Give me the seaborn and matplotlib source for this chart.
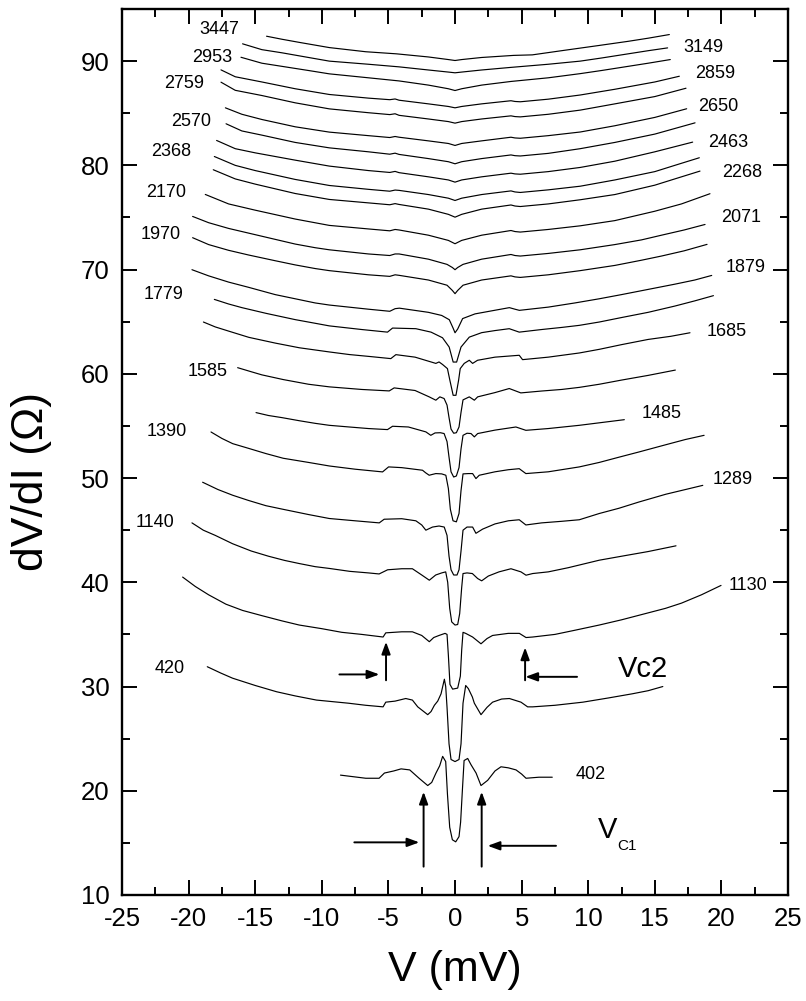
import matplotlib
matplotlib.use("Agg")
import matplotlib.pyplot as plt
import seaborn as sns
import pandas as pd

# ---------------- data ----------------
v_402 = [-8.6, -6.7, -5.7, -5.3, -4.6, -4.05, -3.4, -2.7, -2.05, -1.75, -1.43, -1.15, -0.93, -0.7, -0.57, -0.4, -0.2, 0.05, 0.3, 0.42, 0.55, 0.68, 0.95, 1.2, 1.58, 1.95, 2.45, 3.0, 3.45, 4.0, 4.58, 5.0, 5.33, 6.3, 7.3]
r_402 = [21.5, 21.2, 21.2, 21.7, 21.9, 22.1, 22.0, 21.2, 20.5, 20.8, 21.7, 22.4, 23.3, 22.8, 19.7, 16.5, 15.3, 15.1, 15.6, 17.0, 20.0, 22.9, 23.1, 22.5, 21.7, 20.5, 21.0, 21.9, 22.3, 22.2, 22.0, 21.6, 21.2, 21.3, 21.3]

v_420 = [-18.6, -17.6, -16.7, -15.0, -13.4, -12.0, -10.4, -8.0, -6.7, -5.4, -5.2, -4.5, -3.7, -3.2, -2.8, -2.05, -1.8, -1.55, -1.3, -1.05, -0.8, -0.7, -0.6, -0.45, -0.3, 0.0, 0.3, 0.45, 0.6, 0.8, 1.0, 1.3, 1.45, 1.95, 2.4, 2.82, 3.5, 4.08, 4.95, 5.45, 5.83, 7.5, 9.6, 11.5, 13.3, 14.5, 15.6]
r_420 = [31.9, 31.3, 30.8, 30.1, 29.5, 29.1, 28.7, 28.4, 28.2, 28.05, 28.5, 28.6, 28.85, 28.7, 28.05, 27.3, 27.6, 28.2, 28.6, 29.3, 30.7, 30.0, 28.0, 24.5, 23.0, 22.8, 23.0, 24.5, 28.4, 30.1, 29.8, 29.0, 28.4, 27.3, 28.0, 28.5, 28.8, 28.85, 28.5, 28.05, 28.05, 28.2, 28.5, 28.9, 29.3, 29.6, 30.0]

v_1130 = [-20.45, -19.5, -18.5, -17.2, -15.95, -14.5, -13.0, -11.7, -10.0, -8.5, -7.0, -5.4, -5.2, -4.0, -3.2, -2.5, -1.93, -1.6, -1.2, -0.75, -0.6, -0.5, -0.38, -0.18, 0.2, 0.4, 0.5, 0.6, 0.8, 1.32, 1.95, 2.4, 2.82, 4.0, 4.83, 5.33, 5.83, 7.5, 9.0, 10.83, 12.5, 14.0, 15.8, 17.0, 18.5, 19.97]
r_1130 = [40.5, 39.6, 38.8, 37.9, 37.3, 36.8, 36.3, 35.9, 35.55, 35.2, 35.0, 34.75, 35.15, 35.25, 35.25, 34.9, 34.3, 34.7, 34.9, 35.1, 35.0, 33.0, 30.2, 29.75, 29.85, 31.0, 33.5, 35.2, 35.1, 34.75, 34.1, 34.6, 34.9, 35.1, 35.1, 34.7, 34.75, 35.0, 35.4, 35.9, 36.4, 36.9, 37.5, 38.0, 38.8, 39.7]

v_1140 = [-19.75, -18.9, -18.0, -16.7, -15.3, -14.0, -12.8, -11.7, -10.5, -9.44, -7.9, -6.5, -5.7, -5.06, -4.0, -3.2, -2.5, -1.93, -1.45, -1.0, -0.7, -0.55, -0.4, -0.25, 0.0, 0.2, 0.35, 0.5, 0.6, 0.9, 1.3, 1.7, 2.0, 2.5, 3.3, 4.2, 4.95, 5.33, 5.83, 7.0, 8.5, 10.83, 12.5, 14.5, 16.59]
r_1140 = [45.7, 45.0, 44.5, 43.7, 43.0, 42.5, 42.1, 41.8, 41.5, 41.33, 41.05, 40.9, 40.8, 41.2, 41.3, 41.3, 40.7, 40.2, 40.7, 40.9, 41.0, 40.0, 37.5, 36.2, 35.9, 35.95, 37.0, 39.5, 40.84, 40.9, 40.84, 40.36, 40.14, 40.6, 41.0, 41.3, 41.0, 40.68, 40.84, 41.0, 41.4, 42.12, 42.5, 42.95, 43.5]

v_1289 = [-18.95, -17.8, -16.69, -15.5, -14.2, -12.9, -11.0, -9.44, -7.5, -5.69, -5.32, -4.0, -2.94, -2.5, -2.19, -1.69, -1.2, -0.81, -0.6, -0.45, -0.3, -0.1, 0.15, 0.3, 0.45, 0.6, 0.9, 1.32, 1.57, 2.07, 3.0, 4.0, 4.82, 5.32, 6.5, 8.0, 9.33, 10.83, 12.3, 13.8, 15.83, 17.3, 18.6]
r_1289 = [49.6, 48.9, 48.35, 47.85, 47.35, 47.0, 46.5, 46.12, 45.9, 45.7, 46.05, 46.1, 45.9, 45.5, 45.0, 45.3, 45.4, 45.3, 44.5, 42.5, 41.2, 40.7, 40.7, 41.2, 43.0, 45.0, 45.3, 45.3, 44.7, 45.1, 45.6, 45.9, 46.0, 45.5, 45.7, 45.85, 46.0, 46.6, 47.1, 47.7, 48.45, 48.9, 49.3]

v_1390 = [-18.32, -17.5, -16.69, -15.5, -14.2, -12.9, -11.0, -9.44, -7.5, -5.44, -4.99, -4.0, -2.44, -2.2, -1.94, -1.7, -1.44, -1.0, -0.69, -0.5, -0.35, -0.15, 0.1, 0.3, 0.45, 0.6, 1.0, 1.32, 1.57, 1.82, 3.0, 4.0, 4.82, 5.32, 7.0, 9.33, 10.83, 12.3, 13.8, 15.83, 17.3, 18.7]
r_1390 = [54.42, 53.8, 53.3, 52.85, 52.35, 51.9, 51.5, 51.16, 50.85, 50.59, 51.07, 51.0, 50.75, 50.5, 50.27, 50.35, 50.43, 50.4, 50.27, 49.0, 47.0, 45.9, 45.8, 46.6, 48.8, 50.4, 50.43, 50.43, 49.95, 50.27, 50.6, 50.8, 50.9, 50.43, 50.6, 51.07, 51.5, 52.0, 52.5, 53.2, 53.7, 54.1]

v_1485 = [-14.94, -14.0, -13.0, -11.69, -10.5, -9.44, -7.94, -6.5, -5.07, -4.69, -3.5, -2.19, -1.82, -1.5, -1.1, -0.82, -0.6, -0.45, -0.3, -0.1, 0.1, 0.3, 0.45, 0.6, 0.9, 1.2, 1.45, 1.7, 3.0, 4.57, 5.32, 7.0, 9.33, 10.83, 12.71]
r_1485 = [56.28, 56.0, 55.8, 55.5, 55.25, 55.06, 54.9, 54.75, 54.65, 54.97, 54.9, 54.43, 54.1, 54.33, 54.35, 54.27, 53.5, 52.0, 50.6, 50.1, 50.2, 51.0, 52.8, 54.1, 54.3, 54.27, 53.95, 54.27, 54.6, 54.9, 54.58, 54.75, 55.06, 55.3, 55.6]

v_1585 = [-16.32, -15.3, -14.5, -12.9, -11.0, -9.44, -7.0, -4.94, -4.57, -3.0, -1.94, -1.44, -1.14, -0.82, -0.6, -0.45, -0.3, -0.1, 0.1, 0.3, 0.45, 0.6, 1.07, 1.45, 1.7, 3.0, 4.07, 4.94, 6.5, 8.0, 9.33, 10.83, 12.5, 14.5, 16.54]
r_1585 = [60.59, 60.2, 59.9, 59.45, 59.0, 58.75, 58.5, 58.36, 58.65, 58.4, 57.79, 57.47, 57.79, 57.63, 57.0, 55.8, 54.7, 54.3, 54.35, 54.9, 56.3, 57.5, 57.79, 57.47, 57.79, 58.2, 58.59, 58.17, 58.35, 58.5, 58.7, 59.0, 59.4, 59.85, 60.36]

v_1685 = [-18.89, -18.0, -17.0, -15.48, -13.5, -11.69, -9.44, -7.94, -6.3, -4.82, -4.44, -3.0, -1.44, -1.2, -0.94, -0.57, -0.39, -0.14, 0.07, 0.27, 0.39, 0.69, 1.07, 1.32, 1.69, 3.0, 4.82, 5.07, 7.0, 9.33, 10.83, 12.5, 14.5, 16.2, 17.64]
r_1685 = [64.97, 64.5, 64.1, 63.5, 62.95, 62.5, 62.1, 61.85, 61.65, 61.46, 61.84, 61.6, 61.0, 61.14, 60.9, 60.5, 59.4, 57.94, 57.94, 59.4, 60.5, 61.0, 61.3, 61.0, 61.3, 61.6, 61.78, 61.36, 61.6, 62.0, 62.35, 62.8, 63.3, 63.6, 63.94]

v_1779 = [-18.07, -17.0, -16.0, -14.18, -12.0, -10.5, -9.44, -7.0, -5.07, -4.69, -2.94, -1.8, -0.94, -0.44, -0.14, 0.12, 0.45, 1.07, 2.0, 3.0, 4.07, 4.82, 6.5, 8.0, 9.33, 10.83, 12.5, 14.5, 16.5, 18.0, 19.4]
r_1779 = [67.14, 66.7, 66.35, 65.8, 65.2, 64.85, 64.6, 64.25, 64.0, 64.39, 64.33, 64.0, 63.46, 62.57, 61.13, 61.13, 62.57, 63.52, 63.95, 64.15, 64.33, 64.0, 64.25, 64.45, 64.65, 64.97, 65.4, 65.9, 66.5, 67.0, 67.5]

v_1879 = [-19.75, -18.5, -17.0, -15.5, -13.5, -12.0, -10.5, -9.44, -6.5, -4.9, -4.5, -4.18, -2.0, -1.0, -0.43, -0.15, 0.0, 0.2, 0.57, 1.5, 3.0, 4.08, 4.5, 4.83, 7.0, 9.0, 10.83, 12.5, 14.5, 16.5, 18.0, 19.27]
r_1879 = [69.99, 69.4, 68.8, 68.3, 67.6, 67.2, 66.8, 66.6, 66.2, 66.0, 66.25, 66.3, 65.9, 65.6, 65.19, 64.4, 63.94, 64.3, 65.3, 65.75, 66.1, 66.35, 66.2, 66.09, 66.4, 66.8, 67.2, 67.6, 68.1, 68.6, 69.0, 69.44]

v_1970 = [-19.7, -18.5, -17.0, -15.5, -13.5, -12.0, -10.5, -9.44, -6.5, -4.9, -4.5, -4.2, -2.0, -0.6, -0.2, 0.0, 0.2, 0.6, 2.0, 4.2, 4.5, 4.9, 7.0, 9.4, 12.0, 14.0, 15.5, 17.2, 18.92]
r_1970 = [73.06, 72.4, 71.85, 71.4, 70.85, 70.45, 70.1, 69.9, 69.5, 69.35, 69.5, 69.45, 69.0, 68.5, 68.0, 67.69, 68.0, 68.5, 69.0, 69.4, 69.3, 69.25, 69.5, 69.9, 70.4, 70.9, 71.3, 71.8, 72.42]

v_2071 = [-19.7, -18.5, -17.0, -15.5, -13.5, -12.0, -10.5, -9.44, -6.5, -4.9, -4.5, -4.2, -2.0, -0.6, -0.2, 0.0, 0.2, 0.6, 2.0, 4.2, 4.5, 4.9, 7.0, 9.4, 12.0, 14.0, 15.5, 17.2, 18.77]
r_2071 = [75.1, 74.5, 73.95, 73.5, 72.9, 72.45, 72.1, 71.9, 71.5, 71.35, 71.5, 71.5, 71.0, 70.5, 70.2, 69.99, 70.2, 70.5, 71.0, 71.45, 71.35, 71.3, 71.55, 71.9, 72.4, 72.85, 73.3, 73.8, 74.33]

v_2170 = [-18.75, -17.0, -15.0, -12.0, -9.44, -6.5, -4.9, -4.5, -4.2, -2.0, -0.5, 0.0, 0.5, 2.0, 4.2, 4.5, 4.9, 7.0, 9.4, 12.0, 15.0, 17.0, 19.14]
r_2170 = [77.21, 76.3, 75.7, 74.85, 74.24, 73.9, 73.72, 73.85, 73.8, 73.3, 72.8, 72.48, 72.8, 73.3, 73.75, 73.65, 73.6, 73.85, 74.2, 74.7, 75.6, 76.3, 77.28]

v_2268 = [-18.15, -16.5, -15.0, -12.0, -9.44, -6.5, -4.9, -4.5, -4.2, -2.0, -0.5, 0.0, 0.5, 2.0, 4.2, 4.5, 4.9, 7.0, 9.4, 12.0, 15.0, 16.5, 18.39]
r_2268 = [79.58, 78.7, 78.2, 77.3, 76.73, 76.4, 76.22, 76.33, 76.25, 75.8, 75.3, 75.03, 75.3, 75.8, 76.2, 76.1, 76.05, 76.3, 76.7, 77.2, 78.1, 78.7, 79.45]

v_2368 = [-18.07, -16.5, -15.0, -12.0, -9.44, -6.5, -4.9, -4.5, -4.2, -2.0, -0.5, 0.0, 0.5, 2.0, 4.2, 4.5, 4.9, 7.0, 9.4, 12.0, 15.0, 16.5, 18.34]
r_2368 = [80.85, 80.0, 79.5, 78.65, 78.07, 77.7, 77.52, 77.63, 77.6, 77.2, 76.85, 76.63, 76.85, 77.2, 77.55, 77.45, 77.4, 77.65, 78.0, 78.6, 79.4, 80.0, 80.73]

v_2463 = [-17.9, -16.5, -15.0, -12.0, -9.44, -6.5, -4.9, -4.5, -4.2, -2.0, -0.5, 0.0, 0.5, 2.0, 4.2, 4.5, 4.9, 7.0, 9.4, 12.0, 15.0, 17.84]
r_2463 = [82.39, 81.6, 81.2, 80.5, 79.93, 79.5, 79.32, 79.42, 79.3, 78.9, 78.6, 78.39, 78.6, 78.9, 79.25, 79.18, 79.15, 79.4, 79.8, 80.4, 81.3, 82.23]

v_2570 = [-17.19, -16.0, -14.5, -12.0, -9.44, -6.5, -4.9, -4.5, -4.2, -2.0, -0.5, 0.0, 0.5, 2.0, 4.2, 4.5, 4.9, 7.0, 9.4, 12.0, 15.0, 18.02]
r_2570 = [83.99, 83.3, 82.9, 82.2, 81.68, 81.3, 81.07, 81.17, 81.05, 80.65, 80.35, 80.15, 80.35, 80.65, 81.0, 80.93, 80.9, 81.15, 81.6, 82.2, 83.0, 84.08]

v_2650 = [-17.24, -16.0, -14.5, -12.0, -9.44, -6.5, -4.9, -4.5, -4.2, -2.0, -0.5, 0.0, 0.5, 2.0, 4.2, 4.5, 4.9, 7.0, 9.4, 12.0, 15.0, 17.39]
r_2650 = [85.52, 84.9, 84.4, 83.7, 83.19, 82.85, 82.67, 82.77, 82.7, 82.35, 82.1, 81.91, 82.1, 82.35, 82.7, 82.63, 82.6, 82.85, 83.2, 83.8, 84.6, 85.43]

v_2759 = [-17.57, -16.5, -14.5, -12.0, -9.44, -6.5, -4.9, -4.5, -4.2, -2.0, -0.5, 0.0, 0.5, 2.0, 4.2, 4.5, 4.9, 7.0, 9.4, 12.0, 15.0, 17.34]
r_2759 = [87.98, 87.2, 86.7, 86.0, 85.42, 85.05, 84.87, 84.95, 84.8, 84.45, 84.2, 84.05, 84.2, 84.45, 84.75, 84.68, 84.65, 84.9, 85.3, 85.9, 86.6, 87.4]

v_2859 = [-17.57, -16.5, -14.5, -12.0, -9.44, -6.5, -4.9, -4.5, -4.2, -2.0, -0.5, 0.0, 0.5, 2.0, 4.2, 4.5, 4.9, 7.0, 9.4, 12.0, 15.0, 16.84]
r_2859 = [89.16, 88.5, 88.0, 87.35, 86.8, 86.45, 86.3, 86.37, 86.25, 85.9, 85.65, 85.52, 85.65, 85.9, 86.2, 86.13, 86.1, 86.35, 86.75, 87.3, 88.0, 88.55]

v_2953 = [-16.07, -14.5, -13.0, -11.0, -9.44, -6.5, -4.2, -2.0, -0.5, 0.0, 0.5, 2.0, 4.2, 7.0, 9.4, 11.0, 13.0, 14.5, 16.16]
r_2953 = [90.37, 89.8, 89.5, 89.1, 88.78, 88.4, 88.1, 87.7, 87.35, 87.18, 87.35, 87.7, 88.05, 88.4, 88.8, 89.1, 89.5, 89.8, 90.15]

v_3149 = [-15.95, -14.5, -13.0, -11.0, -9.44, -6.5, -4.2, -2.0, -0.5, 0.0, 0.5, 2.0, 4.2, 7.0, 9.4, 11.0, 13.0, 14.5, 15.96]
r_3149 = [91.66, 91.1, 90.8, 90.35, 90.0, 89.7, 89.45, 89.15, 88.95, 88.88, 88.95, 89.15, 89.4, 89.7, 90.0, 90.3, 90.7, 91.0, 91.27]

v_3447 = [-14.15, -13.0, -11.7, -9.44, -6.7, -4.4, -2.0, -0.5, 0.0, 0.5, 2.0, 4.4, 5.8, 8.0, 10.8, 13.0, 14.5, 16.09]
r_3447 = [92.39, 92.1, 91.8, 91.3, 90.9, 90.7, 90.4, 90.15, 90.06, 90.15, 90.35, 90.55, 90.6, 91.0, 91.5, 91.9, 92.2, 92.55]

curve_labels = ["402", "420", "1130", "1140", "1289", "1390", "1485", "1585",
                "1685", "1779", "1879", "1970", "2071", "2170", "2268", "2368",
                "2463", "2570", "2650", "2759", "2859", "2953", "3149", "3447"]
curve_v = [v_402, v_420, v_1130, v_1140, v_1289, v_1390, v_1485, v_1585,
           v_1685, v_1779, v_1879, v_1970, v_2071, v_2170, v_2268, v_2368,
           v_2463, v_2570, v_2650, v_2759, v_2859, v_2953, v_3149, v_3447]
curve_r = [r_402, r_420, r_1130, r_1140, r_1289, r_1390, r_1485, r_1585,
           r_1685, r_1779, r_1879, r_1970, r_2071, r_2170, r_2268, r_2368,
           r_2463, r_2570, r_2650, r_2759, r_2859, r_2953, r_3149, r_3447]

x_ticks = [-25, -20, -15, -10, -5, 0, 5, 10, 15, 20, 25]
y_ticks = [10, 20, 30, 40, 50, 60, 70, 80, 90]

# ---------------- layout (label and arrow placement) ----------------
label_pos = {
    "402": (10.16, 21.55), "420": (-21.43, 31.74), "1130": (22.02, 39.72),
    "1140": (-22.5, 45.71), "1289": (20.82, 49.84), "1390": (-21.64, 54.44),
    "1485": (15.49, 56.17), "1585": (-18.6, 60.19), "1685": (20.37, 64.03),
    "1779": (-21.9, 67.57), "1879": (21.8, 70.16), "1970": (-22.07, 73.33),
    "2071": (21.5, 74.96), "2170": (-21.7, 77.35), "2268": (21.53, 79.27),
    "2368": (-21.32, 81.35), "2463": (20.52, 82.24), "2570": (-19.82, 84.24),
    "2650": (19.73, 85.65), "2759": (-20.32, 87.9), "2859": (19.54, 88.86),
    "2953": (-18.26, 90.39), "3149": (18.64, 91.26), "3447": (-17.7, 93.08),
}
arrows = [  # (tail, head)
    ((-8.68, 31.16), (-5.68, 31.16)),
    ((-5.18, 30.6), (-5.18, 34.29)),
    ((5.26, 30.6), (5.26, 33.75)),
    ((9.16, 30.93), (5.28, 30.93)),
    ((-2.36, 12.72), (-2.36, 19.9)),
    ((2.0, 12.72), (2.0, 19.9)),
    ((-7.56, 15.05), (-2.68, 15.05)),
    ((7.58, 14.72), (2.45, 14.72)),
]

# ---------------- build table ----------------
rows = []
for lab, vs, rs in zip(curve_labels, curve_v, curve_r):
    for v, r in zip(vs, rs):
        rows.append({"curve": lab, "V": v, "R": r})
df = pd.DataFrame(rows)

sns.set_theme(style="ticks")
plt.rcParams["font.family"] = ["Liberation Sans", "DejaVu Sans"]
plt.rcParams["text.color"] = "black"
plt.rcParams["axes.labelcolor"] = "black"
plt.rcParams["xtick.color"] = "black"
plt.rcParams["ytick.color"] = "black"

fig = plt.figure(figsize=(8.06, 10.01), dpi=100)
ax = fig.add_axes([0.1514, 0.1059, 0.8263, 0.8851])

sns.lineplot(data=df, x="V", y="R", units="curve", estimator=None, sort=False,
             color="black", linewidth=0.85, ax=ax, legend=False)

for lab in curve_labels:
    x, y = label_pos[lab]
    ax.text(x, y, lab, fontsize=13, ha="center", va="center", color="black")

for tail, head in arrows:
    ax.annotate("", xy=head, xytext=tail,
                arrowprops=dict(arrowstyle="-|>,head_length=0.6,head_width=0.22",
                                color="black", lw=1.4, shrinkA=0, shrinkB=0))

ax.text(12.2, 30.9, "Vc2", fontsize=21, ha="left", va="baseline", color="black")
ax.text(10.7, 15.44, "V", fontsize=21, ha="left", va="baseline", color="black")
ax.text(12.2, 14.31, "C1", fontsize=11, ha="left", va="baseline", color="black")

ax.set_xlim(-25, 25)
ax.set_ylim(10, 95)
ax.set_xticks(x_ticks)
ax.set_yticks(y_ticks)
ax.set_xticklabels([str(t) for t in x_ticks])
ax.set_yticklabels([str(t) for t in y_ticks])
ax.xaxis.set_minor_locator(matplotlib.ticker.MultipleLocator(2.5))
ax.yaxis.set_minor_locator(matplotlib.ticker.MultipleLocator(5))
ax.tick_params(which="both", direction="in", top=True, right=True, width=1.4,
               colors="black", labelcolor="black")
ax.tick_params(which="major", length=11, labelsize=18.5)
ax.tick_params(axis="x", which="major", pad=9)
ax.tick_params(axis="y", which="major", pad=9)
ax.tick_params(which="minor", length=6)
for s in ax.spines.values():
    s.set_linewidth(1.7)
    s.set_color("black")

ax.set_xlabel("V (mV)", fontsize=31, color="black")
ax.set_ylabel("dV/dI (\u03a9)", fontsize=32, color="black")
ax.xaxis.set_label_coords(0.5, -0.062)
ax.yaxis.set_label_coords(-0.105, 0.467)

fig.savefig("out.png", dpi=100)
